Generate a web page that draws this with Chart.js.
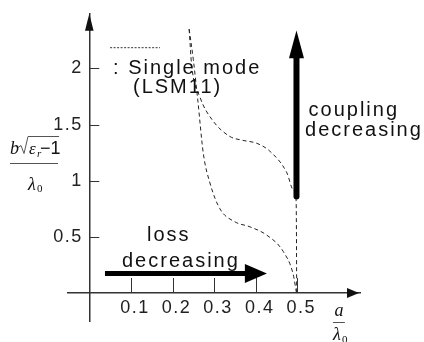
<!DOCTYPE html>
<html>
<head>
<meta charset="utf-8">
<script src="https://cdn.jsdelivr.net/npm/chart.js@4"></script>
<style>
  html, body { margin: 0; padding: 0; background: #fff; }
  #wrap { width: 424px; height: 342px; }
</style>
</head>
<body>
<div id="wrap"><canvas id="chart"></canvas></div>
<script>
// Single mode (LSM11) boundaries: a/λ0 -> b√(εr-1)/λ0
const lowerX = [0.240, 0.250, 0.261, 0.274, 0.290, 0.314, 0.350, 0.386, 0.426, 0.466, 0.490, 0.498];
const lowerY = [2.35, 2.08, 1.71, 1.245, 0.98, 0.75, 0.634, 0.59, 0.517, 0.371, 0.168, 0.0];
const upperX = [0.240, 0.246, 0.266, 0.297, 0.338, 0.369, 0.403, 0.434, 0.475, 0.490, 0.497, 0.498, 0.4985];
const upperY = [2.35, 2.03, 1.744, 1.535, 1.394, 1.36, 1.333, 1.263, 1.07, 0.92, 0.835, 0.5, 0.0];

// Tick values
const xTicks = [0.1, 0.2, 0.3, 0.4, 0.5];
const yTicks = [0.5, 1, 1.5, 2];

const toPoints = (xs, ys) => xs.map((x, i) => ({ x, y: ys[i] }));

const curveStyle = {
  borderColor: '#222',
  borderWidth: 1,
  borderDash: [4, 3],
  pointRadius: 0,
  fill: false,
  cubicInterpolationMode: 'monotone'
};

// Draws tick marks, arrows, annotation texts and the fraction axis titles
const annotations = {
  id: 'annotations',
  beforeDraw(chart) {
    chart.ctx.letterSpacing = '1.5px';
  },
  afterDraw(chart) {
    const { ctx, chartArea, scales: { x, y } } = chart;
    const px = v => x.getPixelForValue(v);
    const py = v => y.getPixelForValue(v);

    const line = (x1, y1, x2, y2) => {
      ctx.beginPath();
      ctx.moveTo(x1, y1);
      ctx.lineTo(x2, y2);
      ctx.stroke();
    };
    const tri = (a, b, c) => {
      ctx.beginPath();
      ctx.moveTo(a[0], a[1]);
      ctx.lineTo(b[0], b[1]);
      ctx.lineTo(c[0], c[1]);
      ctx.closePath();
      ctx.fill();
    };

    ctx.save();
    ctx.letterSpacing = '0px';

    // tick marks pointing into the plot
    ctx.strokeStyle = '#333';
    ctx.lineWidth = 1;
    yTicks.forEach(t => line(px(0), Math.round(py(t)) + 0.5, px(0) + 10, Math.round(py(t)) + 0.5));
    xTicks.forEach(t => line(Math.round(px(t)) + 0.5, py(0), Math.round(px(t)) + 0.5, py(0) - 15));

    // axis arrowheads
    ctx.fillStyle = '#111';
    const ox = px(0), oy = py(0);
    tri([ox, chartArea.top], [ox - 4.3, chartArea.top + 17], [ox + 4.3, chartArea.top + 17]);
    tri([chartArea.right - 1, oy], [chartArea.right - 13, oy - 5], [chartArea.right - 13, oy + 5]);

    // legend sample line
    ctx.strokeStyle = '#333';
    ctx.setLineDash([2, 1.5]);
    line(px(0.05), py(2.185), px(0.17), py(2.185));
    ctx.setLineDash([]);

    // coupling decreasing arrow
    ctx.strokeStyle = '#000';
    ctx.fillStyle = '#000';
    ctx.lineWidth = 6;
    ctx.lineCap = 'round';
    line(px(0.498), py(0.86), px(0.498), py(2.09));
    tri([px(0.498), py(2.338)], [px(0.498) - 7.5, py(2.09)], [px(0.498) + 7.5, py(2.09)]);

    // loss decreasing arrow
    ctx.lineWidth = 5;
    ctx.lineCap = 'butt';
    line(px(0.0377), py(0.173), px(0.376), py(0.173));
    tri([px(0.427), py(0.173)], [px(0.374), py(0.173) - 9.5], [px(0.374), py(0.173) + 9.5]);

    // annotation texts
    ctx.letterSpacing = '2px';
    ctx.font = '20px "Liberation Sans", Arial, sans-serif';
    ctx.fillStyle = '#111';
    ctx.textBaseline = 'alphabetic';
    ctx.textAlign = 'left';
    ctx.fillText(': Single mode', px(0.057), py(1.954));
    ctx.fillText('(LSM11)', px(0.105), py(1.779));
    ctx.fillText('coupling', px(0.527), py(1.578));
    ctx.fillText('decreasing', px(0.5185), py(1.403));
    ctx.fillText('loss', px(0.1387), py(0.463));
    ctx.fillText('decreasing', px(0.0786), py(0.232));

    // y axis title: b√(εr − 1) / λ0
    ctx.letterSpacing = '0px';
    const fy = Math.round(py(1.157)) + 0.5;
    ctx.strokeStyle = '#555';
    ctx.lineWidth = 1;
    line(10, fy, 58, fy);
    ctx.font = 'italic 18px "Liberation Serif", serif';
    ctx.fillText('b', 10, fy - 10);
    ctx.beginPath();
    ctx.moveTo(18, fy - 16);
    ctx.lineTo(21, fy - 18);
    ctx.lineTo(24, fy - 10);
    ctx.lineTo(28, fy - 27);
    ctx.lineTo(59, fy - 27);
    ctx.stroke();
    ctx.font = 'italic 17px "Liberation Serif", serif';
    ctx.fillText('ε', 29, fy - 10);
    ctx.font = 'italic 11px "Liberation Serif", serif';
    ctx.fillText('r', 37, fy - 7);
    ctx.font = '18px "Liberation Sans", sans-serif';
    ctx.fillText('−1', 40, fy - 10);
    ctx.font = 'italic 18px "Liberation Serif", serif';
    ctx.fillText('λ', 28, fy + 26);
    ctx.font = '11px "Liberation Serif", serif';
    ctx.fillText('0', 37, fy + 28);

    // x axis title: a / λ0
    const ax = px(0.6);
    const ay = Math.round(oy) + 29.5;
    line(ax - 6, ay, ax + 6, ay);
    ctx.textAlign = 'center';
    ctx.font = 'italic 18px "Liberation Serif", serif';
    ctx.fillText('a', ax, ay - 7);
    ctx.textAlign = 'left';
    ctx.fillText('λ', ax - 6, ay + 17);
    ctx.font = '11px "Liberation Serif", serif';
    ctx.fillText('0', ax + 3, ay + 20);

    ctx.restore();
  }
};

const tickFont = { family: '"Liberation Sans", Arial, sans-serif', size: 18 };

new Chart(document.getElementById('chart'), {
  type: 'line',
  data: {
    datasets: [
      { label: 'lower', data: toPoints(lowerX, lowerY), ...curveStyle },
      { label: 'upper', data: toPoints(upperX, upperY), ...curveStyle }
    ]
  },
  options: {
    responsive: true,
    maintainAspectRatio: false,
    animation: false,
    events: [],
    layout: { padding: { left: 68, right: 64, top: 8, bottom: 21 } },
    plugins: { legend: { display: false }, tooltip: { enabled: false } },
    scales: {
      x: {
        type: 'linear',
        min: -0.0512,
        max: 0.6507,
        position: { y: 0 },
        afterBuildTicks: s => { s.ticks = xTicks.map(v => ({ value: v })); },
        grid: { drawOnChartArea: false, drawTicks: false },
        border: { color: '#333', width: 1.5 },
        ticks: { font: tickFont, color: '#222', padding: 4, labelOffset: 4, maxRotation: 0, callback: v => String(v) }
      },
      y: {
        type: 'linear',
        min: -0.2491,
        max: 2.4869,
        position: { x: 0 },
        afterBuildTicks: s => { s.ticks = yTicks.map(v => ({ value: v })); },
        grid: { drawOnChartArea: false, drawTicks: false },
        border: { color: '#333', width: 1.5 },
        // padding is ignored for an axis placed at a value, so a trailing space keeps the gap
        ticks: { font: tickFont, color: '#222', callback: v => String(v) + ' ' }
      }
    }
  },
  plugins: [annotations]
});
</script>
</body>
</html>
